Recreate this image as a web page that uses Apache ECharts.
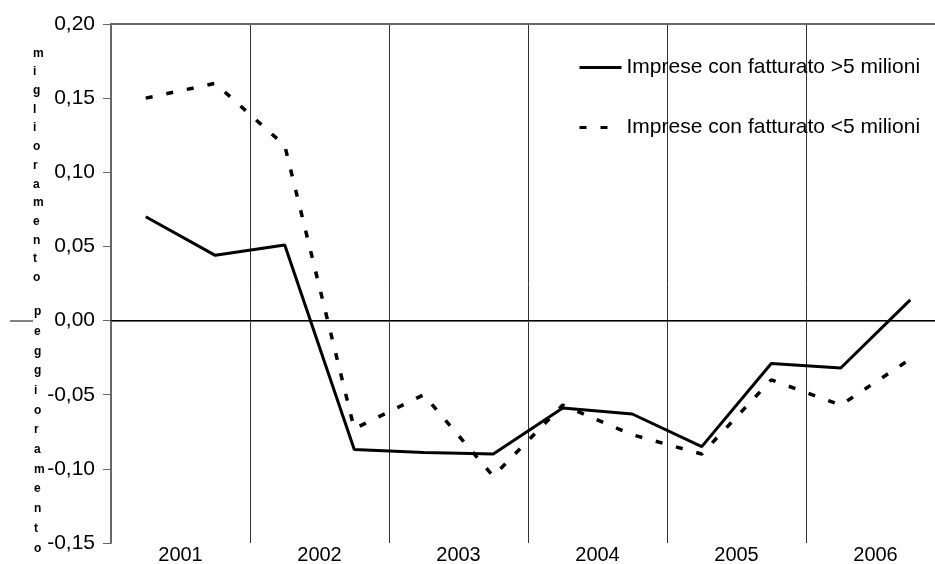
<!DOCTYPE html>
<html>
<head>
<meta charset="utf-8">
<script src="https://cdn.jsdelivr.net/npm/echarts@6/dist/echarts.min.js"></script>
<style>
  html, body { margin: 0; padding: 0; background: #fff; }
  #chart { width: 935px; height: 564px; }
</style>
</head>
<body>
<div id="chart"></div>
<script>
  // anni (etichette asse) e semestri (punti delle serie)
  const years = ['2001', '2002', '2003', '2004', '2005', '2006'];
  const semesters = ['2001 I', '2001 II', '2002 I', '2002 II', '2003 I', '2003 II',
                     '2004 I', '2004 II', '2005 I', '2005 II', '2006 I', '2006 II'];
  // saldo imprese grandi / piccole
  const bigFirms = [0.070, 0.044, 0.051, -0.087, -0.089, -0.090, -0.059, -0.063, -0.085, -0.029, -0.032, 0.014];
  const smallFirms = [0.150, 0.160, 0.118, -0.073, -0.050, -0.105, -0.057, -0.077, -0.090, -0.040, -0.057, -0.026];
  const bigName = 'Imprese con fatturato >5 milioni';
  const smallName = 'Imprese con fatturato <5 milioni';

  const font = "'Liberation Sans', Arial, sans-serif";
  const chart = echarts.init(document.getElementById('chart'));

  const option = {
    backgroundColor: '#fff',
    animation: false,
    grid: { left: 111, top: 24, width: 834, height: 519, outerBoundsMode: 'none', containLabel: false },
    legend: {
      orient: 'vertical',
      left: 578,
      top: 57,
      padding: 0,
      itemWidth: 42,
      itemHeight: 14,
      itemGap: 39,
      itemStyle: { opacity: 0 },
      lineStyle: { width: 3 },
      textStyle: { fontFamily: font, fontSize: 21, color: '#000' },
      data: [bigName, smallName]
    },
    xAxis: [
      {
        type: 'category',
        data: years,
        position: 'bottom',
        boundaryGap: true,
        axisLine: { lineStyle: { color: '#666', width: 2 } },
        axisTick: { show: false },
        axisLabel: { fontFamily: font, fontSize: 20, color: '#000', margin: 2 },
        splitLine: { show: true, lineStyle: { color: '#333', width: 1 } }
      },
      {
        type: 'category',
        data: semesters,
        position: 'top',
        boundaryGap: true,
        axisLine: { lineStyle: { color: '#666', width: 2 } },
        axisTick: { show: false },
        axisLabel: { show: false },
        splitLine: { show: false }
      }
    ],
    yAxis: {
      type: 'value',
      min: -0.15,
      max: 0.2,
      interval: 0.05,
      axisLine: { show: true, onZero: false, lineStyle: { color: '#666', width: 2 } },
      axisTick: { show: true, inside: false, length: 8, lineStyle: { color: '#666' } },
      axisLabel: {
        fontFamily: font, fontSize: 21, color: '#000', margin: 16,
        formatter: v => v.toFixed(2).replace('.', ',')
      },
      splitLine: { show: false }
    },
    graphic: [
      {
        type: 'text', left: 33, top: 44,
        style: {
          text: 'miglioramento'.split('').join('\n'),
          fontFamily: font, fontSize: 12, fontWeight: 'bold',
          lineHeight: 18.7, fill: '#000', align: 'center'
        }
      },
      {
        type: 'line',
        shape: { x1: 10, y1: 321, x2: 33, y2: 321 },
        style: { stroke: '#000', lineWidth: 1 }
      },
      {
        type: 'text', left: 34, top: 302,
        style: {
          text: 'peggioramento'.split('').join('\n'),
          fontFamily: font, fontSize: 12, fontWeight: 'bold',
          lineHeight: 19.7, fill: '#000', align: 'center'
        }
      }
    ],
    series: [
      {
        name: bigName,
        type: 'line',
        xAxisIndex: 1,
        data: bigFirms,
        symbol: 'none',
        lineStyle: { color: '#000', width: 3 },
        itemStyle: { color: '#000' },
        markLine: {
          silent: true,
          symbol: 'none',
          label: { show: false },
          lineStyle: { color: '#000', width: 1, type: 'solid' },
          data: [{ yAxis: 0 }]
        },
        z: 3
      },
      {
        name: smallName,
        type: 'line',
        xAxisIndex: 1,
        data: smallFirms,
        symbol: 'none',
        lineStyle: { color: '#000', width: 3.5, type: [7, 14] },
        itemStyle: { color: '#000' },
        z: 3
      }
    ]
  };

  chart.setOption(option);
</script>
</body>
</html>
